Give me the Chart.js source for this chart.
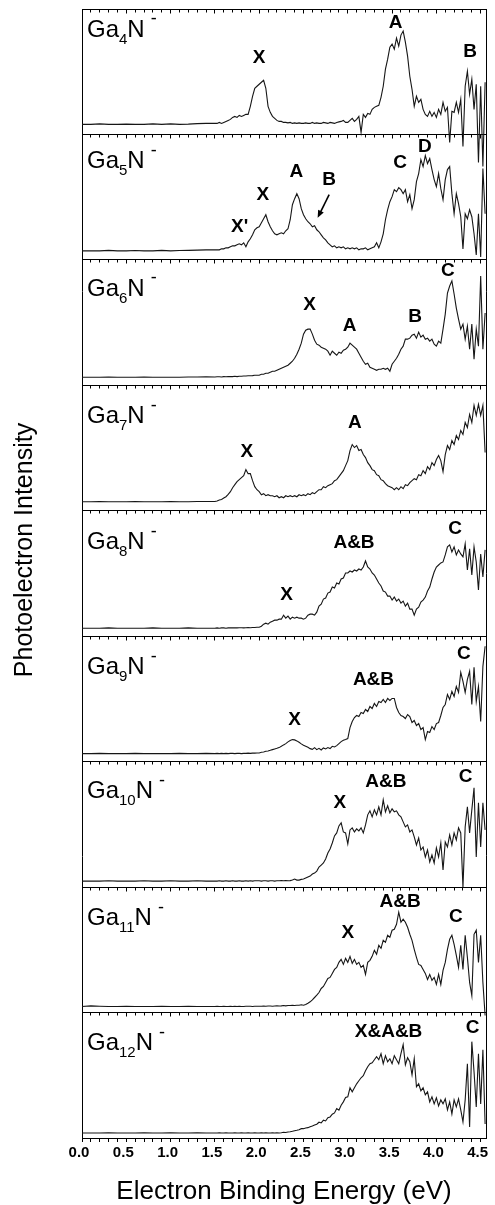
<!DOCTYPE html>
<html>
<head>
<meta charset="utf-8">
<script src="https://cdn.jsdelivr.net/npm/chart.js@4.4.1/dist/chart.umd.min.js"></script>
<style>
html,body{margin:0;padding:0;background:#fff;}
#wrap{width:495px;height:1205px;position:relative;}
canvas{display:block;}
</style>
</head>
<body>
<div id="wrap"><canvas id="c" width="495" height="1205"></canvas></div>
<script>
// ---- Data ----
// Electron binding energy grid (eV)
const energy = [
  0,0.1,0.2,0.3,0.4,0.5,0.6,0.7,0.8,0.9,1.0,1.1,1.2,1.3,1.4,
  1.5,1.525,1.55,1.575,1.6,1.625,1.65,1.675,1.7,1.725,1.75,1.775,1.8,1.825,1.85,1.875,1.9,1.925,1.95,1.975,
  2.0,2.025,2.05,2.075,2.1,2.125,2.15,2.175,2.2,2.225,2.25,2.275,2.3,2.325,2.35,2.375,2.4,2.425,2.45,2.475,
  2.5,2.525,2.55,2.575,2.6,2.625,2.65,2.675,2.7,2.725,2.75,2.775,2.8,2.825,2.85,2.875,2.9,2.925,2.95,2.975,
  3.0,3.025,3.05,3.075,3.1,3.125,3.15,3.175,3.2,3.225,3.25,3.275,3.3,3.325,3.35,3.375,3.4,3.425,3.45,3.475,
  3.5,3.525,3.55,3.575,3.6,3.625,3.65,3.675,3.7,3.725,3.75,3.775,3.8,3.825,3.85,3.875,3.9,3.925,3.95,3.975,
  4.0,4.025,4.05,4.075,4.1,4.125,4.15,4.175,4.2,4.225,4.25,4.275,4.3,4.325,4.35,4.375,4.4,4.425,4.45,4.475,
  4.5,4.525,4.55
];

// Photoelectron intensity (arbitrary units above each spectrum's baseline)
const ga4n = [
  0,0,0.5,0,0,0.3,0,0,0.5,0,0.5,0,0.3,0.8,1,
  1,1,2,1,2,3,4,5,7,8,7,9,8,9,10,10,18,28,36,38,
  40,42,44,36,18,12,8,6,4,3,3,2,2,1.5,2,1,1.5,1,1.5,1,
  1,1.5,1,1,2,1,1.5,1,1,2,1.5,1,2,1.5,1,2,2.5,3,4,2,
  2,4,6,3,5,8,-8,10,7,11,10,15,17,18,19,27,38,55,65,77,
  80,75,86,78,89,93,82,68,48,35,18,28,22,25,15,10,8,13,8,12,
  7,15,10,22,13,17,-18,13,12,22,12,25,-22,38,53,30,45,15,40,-38,
  38,-42,42
];
const ga5n = [
  0,0,0,0.5,0,0,0.3,0,0,0.5,0,0.3,0.5,0.7,1,
  1,1,1,2,2,3,3,4,5,5,6,7,6,8,4,9,12,16,21,23,
  24,28,32,36,29,24,20,17,16,17,18,17,20,22,31,46,52,57,52,42,
  36,32,29,27,24,25,21,19,16,13,11,8,6,4,5,3,4,3,4,2,
  3,2,3,2,3,1,2,2,3,1,2,3,4,8,3,9,17,31,41,49,
  54,61,59,63,61,57,61,49,56,42,51,69,77,91,84,95,87,92,81,71,
  64,77,62,51,71,81,84,57,37,57,47,34,2,37,32,41,34,17,-4,37,
  -6,82,37
];
const ga6n = [
  0,0,0,0.3,0,0,0,0.3,0,0,0,0,0.3,0.3,0.5,
  0.3,0.5,0.5,0.3,0.7,0.5,0.7,0.7,0.7,1,0.7,1,1,1.3,1.3,1.5,1.5,1.7,2,2,
  2,3,3,4,4,5,6,6,7,8,9,10,11,12,14,16,19,23,28,34,
  43,47,48,48,43,37,33,32,30,29,28,26,22,26,24,22,25,24,27,28,
  30,34,32,30,28,24,20,16,13,14,10,9,8,7,8,8,9,8,9,6,
  13,16,19,23,28,31,38,38,39,42,43,39,45,40,42,38,39,36,38,33,
  31,36,34,48,63,84,91,96,83,69,58,48,53,38,51,28,53,18,48,31,
  101,28,64
];
const ga7n = [
  0,0,0.3,0,0,0,0.3,0,0,0,0.3,0,0,0.3,0.3,
  0.3,0.7,1.7,2.3,3.7,5,7.3,10,14,17,20,22,24,26,32,28,28,21,15,12,
  10,7,8,6,7,6,6,5,6,4,5,4,6,5,6,5,6,5,7,6,
  7,6,8,7,9,8,10,12,12,15,14,16,17,18,21,22,25,28,31,36,
  41,51,57,54,56,51,52,47,44,39,36,32,31,27,26,22,21,18,16,15,
  14,12,14,12,15,13,17,16,19,21,23,22,27,26,31,28,35,32,39,36,
  42,46,41,30,47,56,52,61,57,66,62,71,67,79,74,87,79,96,86,97,
  86,96,49
];
const ga8n = [
  0,0,0,0.3,0,0,0,0,0.3,0,0,0,0.3,0,0,
  0,0.3,0,0.3,0.3,0,0.3,0.3,0.5,0.3,0.3,0.5,0.5,0.3,0.5,0.7,0.5,0.7,0.7,1,
  1,2,4,5,4,6,7,8,8,9,9,13,10,12,9,11,10,11,10,10,
  9,10,13,14,14,13,16,22,24,29,30,35,36,41,40,45,44,49,50,55,
  55,57,56,58,57,59,58,61,67,61,59,55,53,49,45,42,37,36,32,32,
  28,31,27,29,25,27,22,25,19,19,13,19,21,26,28,31,37,41,49,56,
  61,63,65,66,73,81,83,76,81,73,78,74,71,84,58,79,53,81,66,38,
  74,51,78
];
const ga9n = [
  0,0,0.3,0,0,0,0.3,0,0,0,0,0.3,0,0,0.3,
  0,0.3,0,0.3,0,0.3,0,0.3,0.3,0,0.3,0.3,0,0.3,0.3,0.5,0.3,0.5,0.5,0.7,
  0.7,1.3,1.7,2.3,2.7,3.3,4,4.7,5.3,6,7.3,8.7,10,11.7,13,14,13.7,12.7,11.3,9.7,
  8.3,7.3,6.3,5,4.3,6,4,5.3,3.7,5.7,4.7,6,5,7.3,6.7,8,10,12,13.3,14,
  15,26,32,36,38,37,41,40,44,42,47,45,50,47,52,51,54,51,55,53,
  55,55,46,41,38,37,35,39,37,31,33,28,30,24,26,14,22,21,27,24,
  30,31,38,46,49,59,54,62,57,67,61,81,72,61,74,82,49,86,52,67,
  32,87,107
];
const ga10n = [
  0,0,0,0.3,0,0,0,0.3,0,0,0.3,0,0,0.3,0,
  0,0,0.3,0,0,0.3,0,0,0.3,0,0,0.3,0,0,0.3,0,0.3,0,0.3,0.3,
  0.3,0,0.3,0.3,0,0.3,0.3,0,0.3,0.3,0.5,0.3,0.5,0.3,0.5,1,2,1,1,1.7,
  2,3,4,5,7,8,10,14,16,18,22,28,32,38,45,48,55,58,49,48,
  37,51,53,49,52,50,53,48,56,66,70,64,71,66,74,66,81,69,75,68,
  72,69,70,66,64,59,54,56,49,51,44,36,43,31,34,24,31,19,26,18,
  33,24,38,11,39,34,46,36,48,41,53,48,-6,54,74,48,71,93,24,78,
  34,78,51
];
const ga11n = [
  0,0.7,0.3,0,0,0.3,0,0,0,0.3,0,0,0.3,0,0,
  0,0.3,0,0,0.3,0,0,0.3,0,0.3,0,0.3,0,0,0.3,0.3,0.3,0,0.3,0.3,
  0.3,0.3,0.5,0.3,0.5,0.5,0.3,0.5,0.7,0.5,0.7,1,0.7,1,1,1.3,1,1.3,1.3,1.7,
  1.3,2,3.3,4.7,6.7,9,11.3,14,18,20,24,28,29,33,37,39,44,47,42,48,
  44,50,43,47,42,44,39,41,32,44,46,50,56,52,61,58,66,64,71,69,
  76,77,82,94,84,87,84,79,72,66,57,49,42,41,37,33,27,32,26,29,
  22,32,22,36,44,57,67,71,62,51,39,61,37,71,49,24,11,72,76,44,
  71,24,-9
];
const ga12n = [
  0,0,0,0.3,0,0,0,0.3,0,0,0.3,0,0,0.3,0,
  0,0,0.3,0,0,0.3,0,0,0,0.3,0,0,0.3,0,0,0.3,0,0,0.3,0,
  0,0.3,0,0.3,0,0,0.3,0,0.3,0,0.3,0.7,0.5,1,1.3,1.7,2.3,2.7,3.3,4.3,
  4.3,5,5.3,6.3,7,8,8.7,10.7,10,12.7,12,15.3,16,18.7,20,24.3,22.7,27.7,31,35.3,
  36,45,41,45,49,52,55,57,62,66,69,70,73,76,73,79,69,77,71,74,
  69,77,73,69,79,88,68,75,71,58,74,46,49,42,45,38,41,31,36,29,
  35,27,33,29,34,23,31,19,33,26,34,23,11,33,69,6,91,61,26,79,
  29,83,9
];

// Cluster sizes (Ga_n N^-), top panel to bottom panel
const clusterSizes = [4,5,6,7,8,9,10,11,12];
const spectra = [ga4n, ga5n, ga6n, ga7n, ga8n, ga9n, ga10n, ga11n, ga12n];
// Zero-intensity level of each spectrum inside its panel (same units)
const baselines = [10,9,8,9,8,8,6,6,5];

// Peak assignments: panel index, energy (eV), height in panel, text
const peakPanel  = [0,0,0, 1,1,1,1,1,1, 2,2,2,2, 3,3, 4,4,4, 5,5,5, 6,6,6, 7,7,7, 8,8];
const peakEnergy = [2.00,3.54,4.38, 1.78,2.04,2.42,2.79,3.59,3.87, 2.57,3.02,3.76,4.13, 1.86,3.08, 2.31,3.07,4.21, 2.40,3.29,4.31, 2.91,3.43,4.33, 3.00,3.59,4.22, 3.46,4.41];
const peakLevel  = [76,111,82, 33,65,88,80,97,113, 80,59,68,114, 59,88, 41,93,107, 42,82,108, 84,105,110, 80,110,95, 106,110];
const peakText   = ['X','A','B', "X'",'X','A','B','C','D', 'X','A','B','C', 'X','A', 'X','A&B','C', 'X','A&B','C', 'X','A&B','C', 'X','A&B','C', 'X&A&B','C'];
// Arrow pointing at shoulder B of Ga5N-: [energy, level] from -> to
const arrowPanel = 1;
const arrowFrom = [2.79, 65];
const arrowTo   = [2.66, 42];
// Name label heights (cap centre, panel units)
const nameLevel = [106,100,98,96,95,96,97,96,96];

const xTickStep = 0.1;
const PANEL = 125;
const NP = clusterSizes.length;
const FONT = '"Liberation Sans", Arial, Helvetica, sans-serif';

const datasets = spectra.map((vals, i) => ({
  label: 'Ga' + clusterSizes[i] + 'N-',
  data: energy.map((e, k) => ({ x: e, y: (NP - 1 - i) * PANEL + baselines[i] + vals[k] })),
  borderColor: '#161616',
  borderWidth: 1.1,
  pointRadius: 0,
  fill: false,
  tension: 0
}));

function isMajor(v) { return Math.abs(v * 2 - Math.round(v * 2)) < 1e-6; }
function align(p) { return Math.round(p - 0.5) + 0.5; }

const decor = {
  id: 'decor',
  afterDraw(chart) {
    const { ctx, chartArea: a, scales: { x, y } } = chart;
    ctx.save();
    ctx.strokeStyle = '#000';
    ctx.lineWidth = 1;
    ctx.beginPath();
    // right frame
    const rx = align(a.right);
    ctx.moveTo(rx, a.top); ctx.lineTo(rx, a.bottom);
    // inward ticks at top of every panel
    x.ticks.forEach(t => {
      const px = align(x.getPixelForValue(t.value));
      const len = isMajor(t.value) ? 4 : 3;
      for (let k = 1; k <= NP; k++) {
        const py = align(y.getPixelForValue(k * PANEL));
        ctx.moveTo(px, py); ctx.lineTo(px, py + len);
      }
    });
    ctx.stroke();

    ctx.fillStyle = '#000';
    // cluster names Ga_nN^-
    clusterSizes.forEach((n, i) => {
      const F = 24;
      const capMid = y.getPixelForValue((NP - 1 - i) * PANEL + nameLevel[i]);
      const base = capMid + 0.358 * F;
      let cx = a.left + 5;
      ctx.textAlign = 'left';
      ctx.textBaseline = 'alphabetic';
      ctx.font = F + 'px ' + FONT;
      ctx.fillText('Ga', cx, base); cx += ctx.measureText('Ga').width;
      ctx.font = '15px ' + FONT;
      ctx.fillText(String(n), cx, base + 7); cx += ctx.measureText(String(n)).width;
      ctx.font = F + 'px ' + FONT;
      ctx.fillText('N', cx, base); cx += ctx.measureText('N').width + 6;
      ctx.font = '18px ' + FONT;
      ctx.fillText('-', cx, base - 0.716 * F + 5);
    });

    // peak labels
    ctx.font = 'bold 19px ' + FONT;
    ctx.textAlign = 'center';
    ctx.textBaseline = 'middle';
    peakText.forEach((t, j) => {
      const px = x.getPixelForValue(peakEnergy[j]);
      const py = y.getPixelForValue((NP - 1 - peakPanel[j]) * PANEL + peakLevel[j]);
      ctx.fillText(t, px, py);
    });

    // arrow
    const off = (NP - 1 - arrowPanel) * PANEL;
    const x1 = x.getPixelForValue(arrowFrom[0]), y1 = y.getPixelForValue(off + arrowFrom[1]);
    const x2 = x.getPixelForValue(arrowTo[0]),   y2 = y.getPixelForValue(off + arrowTo[1]);
    const ang = Math.atan2(y2 - y1, x2 - x1);
    ctx.lineWidth = 1.6;
    ctx.beginPath();
    ctx.moveTo(x1, y1);
    ctx.lineTo(x2 - 4 * Math.cos(ang), y2 - 4 * Math.sin(ang));
    ctx.stroke();
    ctx.beginPath();
    ctx.moveTo(x2, y2);
    ctx.lineTo(x2 - 8 * Math.cos(ang - 0.4), y2 - 8 * Math.sin(ang - 0.4));
    ctx.lineTo(x2 - 8 * Math.cos(ang + 0.4), y2 - 8 * Math.sin(ang + 0.4));
    ctx.closePath();
    ctx.fill();

    // y axis title
    ctx.save();
    ctx.translate(24.7, 550);
    ctx.rotate(-Math.PI / 2);
    ctx.font = '25px ' + FONT;
    ctx.textAlign = 'center';
    ctx.textBaseline = 'middle';
    ctx.fillText('Photoelectron Intensity', 0, 0);
    ctx.restore();

    ctx.restore();
  }
};

new Chart(document.getElementById('c'), {
  type: 'line',
  data: { datasets },
  options: {
    responsive: false,
    animation: false,
    devicePixelRatio: 1,
    layout: { padding: { left: 0, right: 9, top: 9, bottom: 0 } },
    plugins: { legend: { display: false }, tooltip: { enabled: false } },
    scales: {
      x: {
        type: 'linear',
        position: 'bottom',
        min: 0,
        max: 4.56,
        afterFit: s => { s.height = 67; },
        ticks: {
          stepSize: xTickStep,
          includeBounds: false,
          autoSkip: false,
          maxRotation: 0,
          padding: 2,
          labelOffset: -3,
          color: '#000',
          font: { family: FONT, size: 15, weight: 'bold' },
          callback: v => isMajor(v) ? v.toFixed(1) : ''
        },
        grid: { drawOnChartArea: false, drawTicks: true, tickLength: 4, color: '#000', lineWidth: 1 },
        border: { display: true, color: '#000', width: 1 },
        title: {
          display: true,
          text: 'Electron Binding Energy (eV)',
          color: '#000',
          font: { family: FONT, size: 26, lineHeight: 1 },
          padding: { top: 0, bottom: 0 }
        }
      },
      y: {
        type: 'linear',
        min: 0,
        max: NP * PANEL,
        afterFit: s => { s.width = 82; },
        ticks: { display: false, stepSize: PANEL },
        grid: { drawTicks: false, color: '#000', lineWidth: 1 },
        border: { display: true, color: '#000', width: 1 }
      }
    }
  },
  plugins: [decor]
});
</script>
</body>
</html>
